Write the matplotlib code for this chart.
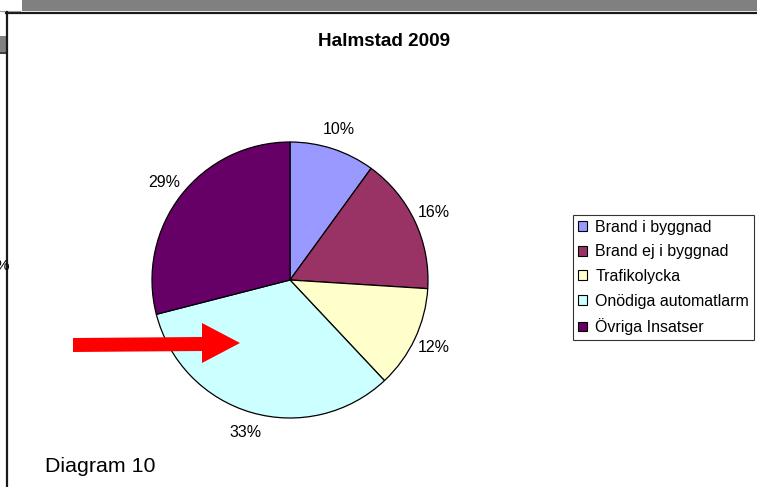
import matplotlib.pyplot as plt
from matplotlib.patches import Rectangle, Polygon, Patch

plt.rcParams['font.family'] = ['Liberation Sans', 'DejaVu Sans']

categories = ["Brand i byggnad", "Brand ej i byggnad", "Trafikolycka",
              "Onödiga automatlarm", "Övriga Insatser"]
shares = [10, 16, 12, 33, 29]
colors = ["#9999FF", "#993366", "#FFFFCC", "#CCFFFF", "#660066"]

W, H = 757, 487
fig = plt.figure(figsize=(W / 100, H / 100), dpi=100)

# overlay in pixel coords for the sheet decorations
bg = fig.add_axes([0, 0, 1, 1])
bg.set_xlim(0, W)
bg.set_ylim(H, 0)
bg.axis('off')
bg.add_patch(Rectangle((22, 0), W - 22, 11, color="#808080", lw=0))
bg.add_patch(Rectangle((0, 36), 6, 16, color="#808080", lw=0))
bg.plot([6, W], [12.5, 12.5], color="#1a1a1a", lw=1.6)
bg.plot([0, 20], [10.5, 10.5], color="#999999", lw=0.8)
bg.plot([0, 6], [52.5, 52.5], color="#1a1a1a", lw=1.2)
bg.plot([6.5, 6.5], [12, H], color="#1a1a1a", lw=1.6)
bg.text(-5, 266, "%", fontsize=11, va='center', ha='left')

# pie
ax = fig.add_axes([152 / W, (H - 418) / H, 276 / W, 276 / H])
wedges, texts = ax.pie(shares, colors=colors, startangle=90, counterclock=False,
                       labels=[f"{v}%" for v in shares], labeldistance=1.15,
                       wedgeprops=dict(edgecolor="black", linewidth=0.9),
                       textprops=dict(fontsize=11.5))
for t in texts:
    t.set_ha('center')
    t.set_va('center')
ax.set_xlim(-1, 1)
ax.set_ylim(-1, 1)
ax.set_aspect('auto')

fig.text(384 / W, 1 - 42 / H, "Halmstad 2009", ha='center', va='center',
         fontsize=13.6, fontweight='bold')

handles = [Patch(facecolor=c, edgecolor="black", linewidth=0.8) for c in colors]
leg = fig.legend(handles, categories, loc='upper left',
                 bbox_to_anchor=(573 / W, 1 - 215 / H), fontsize=11.5,
                 frameon=True, fancybox=False, handlelength=0.55, handleheight=0.55,
                 handletextpad=0.55, labelspacing=0.6, borderpad=0.3,
                 borderaxespad=0)
leg.get_frame().set_edgecolor("black")
leg.get_frame().set_linewidth(0.8)

# top overlay so the red arrow sits above the pie
top = fig.add_axes([0, 0, 1, 1])
top.set_xlim(0, W)
top.set_ylim(H, 0)
top.axis('off')
top.patch.set_alpha(0)
top.add_patch(Polygon([(73, 338), (202, 337), (202, 323), (240, 343),
                       (202, 363), (202, 351), (73, 352)],
                      closed=True, color="#FF0000", lw=0))

top.text(45, 466, "Diagram 10", fontsize=15.4, va='center', ha='left')

fig.savefig("out.png", dpi=100)
